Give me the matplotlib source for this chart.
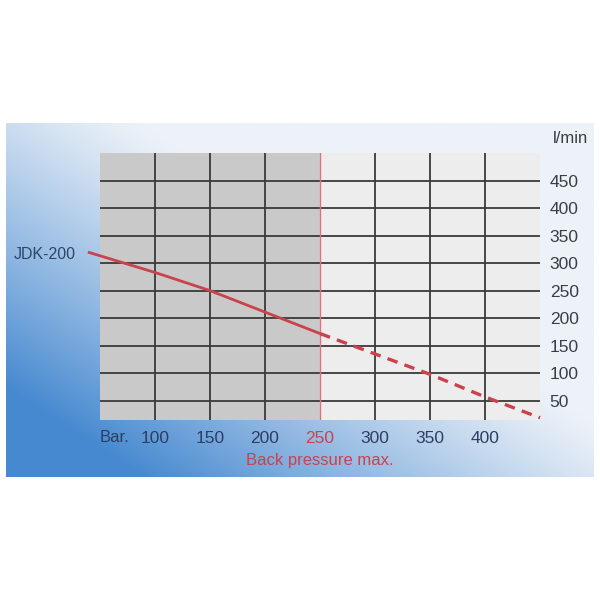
import numpy as np
import matplotlib.pyplot as plt
from matplotlib.colors import to_rgb

# data
pressure_solid = [39, 100, 150, 200, 250]
flow_solid = [320, 283, 250, 211, 172]
pressure_dashed = [250, 300, 350, 400, 450]
flow_dashed = [172, 135, 98, 57, 19]

x_ticks = [100, 150, 200, 250, 300, 350, 400]
y_ticks = [50, 100, 150, 200, 250, 300, 350, 400, 450]
max_back_pressure = 250
model = "JDK-200"

plt.rcParams['font.family'] = ['Liberation Sans', 'DejaVu Sans']

fig = plt.figure(figsize=(6, 6), dpi=100)
fig.patch.set_facecolor('white')

# blue gradient panel behind the chart
bg = fig.add_axes([6 / 600, 1 - 477 / 600, 588 / 600, 354 / 600])
bg.set_axis_off()
u = np.linspace(0, 1, 300)[None, :]
v = np.linspace(1, 0, 200)[:, None]
t = np.clip(1.25 - (1.1 * u + 1.0 * v), 0, 1) ** 1.15
light = np.array(to_rgb('#edf2f8'))
blue = np.array(to_rgb('#4689d0'))
img = light[None, None, :] * (1 - t[..., None]) + blue[None, None, :] * t[..., None]
bg.imshow(img, aspect='auto', extent=[0, 1, 0, 1])
bg.set_xlim(0, 1)
bg.set_ylim(0, 1)

ax = fig.add_axes([100 / 600, 1 - 420 / 600, 440 / 600, 267 / 600])
ax.set_xlim(50, 450)
ax.set_ylim(15, 500)
for s in ax.spines.values():
    s.set_visible(False)

ax.axvspan(50, max_back_pressure, color='#c9c9c9', zorder=0)
ax.axvspan(max_back_pressure, 450, color='#ededed', zorder=0)

for x in x_ticks:
    if x == max_back_pressure:
        ax.axvline(x, color='#e0707a', lw=1.0, zorder=2)
    else:
        ax.axvline(x, color='#3a3a3a', lw=1.3, zorder=1)
for y in y_ticks:
    ax.axhline(y, color='#3a3a3a', lw=1.3, zorder=1)

red = '#c9424c'
ax.plot(pressure_solid, flow_solid, color=red, lw=2.0, zorder=3,
        clip_on=False, solid_capstyle='butt')
ax.plot(pressure_dashed, flow_dashed, color=red, lw=2.4, zorder=3,
        clip_on=False, dashes=(3.2, 2.2))

ax.yaxis.tick_right()
ax.set_yticks(y_ticks)
ax.set_yticklabels([str(y) for y in y_ticks])
ax.tick_params(axis='y', length=0, pad=7, labelsize=12.5, labelcolor='#3a3d45')
ax.set_xticks(x_ticks)
ax.set_xticklabels([str(x) for x in x_ticks])
ax.tick_params(axis='x', length=0, pad=8, labelsize=12.5, labelcolor='#2b3e63')
for lab in ax.get_xticklabels():
    if lab.get_text() == str(max_back_pressure):
        lab.set_color(red)

ax.text(50, -17, "Bar.", ha='left', va='center', fontsize=12, color='#2b3e63',
        clip_on=False)
ax.text(max_back_pressure, -58, "Back pressure max.", ha='center', va='center',
        fontsize=12, color=red, clip_on=False)
ax.text(1.03, 1.056, "l/min", ha='left', va='center', fontsize=12,
        color='#3a3d45', transform=ax.transAxes)
ax.text(0, 315, model, ha='center', va='center', fontsize=11.5,
        color='#2f4566', clip_on=False)

fig.savefig('out.png', dpi=100)
